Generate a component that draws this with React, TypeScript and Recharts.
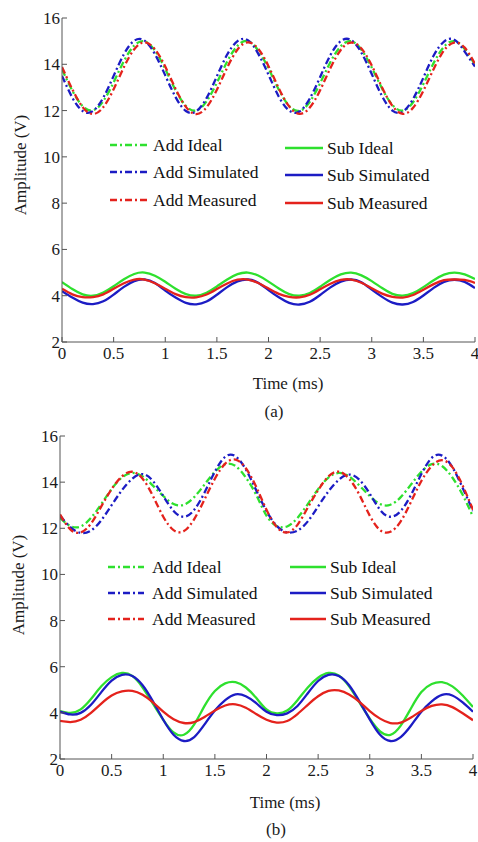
import { LineChart, Line, XAxis, YAxis, Legend } from 'recharts';

// time axis, ms
const time = [
  0, 0.1, 0.2, 0.3, 0.4, 0.5, 0.6, 0.7, 0.8, 0.9,
  1, 1.1, 1.2, 1.3, 1.4, 1.5, 1.6, 1.7, 1.8, 1.9,
  2, 2.1, 2.2, 2.3, 2.4, 2.5, 2.6, 2.7, 2.8, 2.9,
  3, 3.1, 3.2, 3.3, 3.4, 3.5, 3.6, 3.7, 3.8, 3.9, 4,
];

const xTicks = [0, 0.5, 1, 1.5, 2, 2.5, 3, 3.5, 4];
const yTicks = [2, 4, 6, 8, 10, 12, 14, 16];

// panel (a)
const addIdealA = [
  13.78, 12.86, 12.19, 12.01, 12.41, 13.22, 14.14, 14.81, 14.99, 14.59,
  13.8, 12.88, 12.2, 12.0, 12.4, 13.2, 14.12, 14.8, 15.0, 14.6,
  13.82, 12.9, 12.2, 11.99, 12.38, 13.18, 14.1, 14.78, 15.0, 14.63,
  13.86, 12.95, 12.24, 12.0, 12.36, 13.15, 14.06, 14.76, 15.0, 14.66, 13.98,
];
const addSimA = [
  13.5, 12.56, 11.98, 11.98, 12.56, 13.5, 14.44, 15.02, 15.02, 14.44,
  13.52, 12.58, 11.98, 11.97, 12.54, 13.48, 14.42, 15.0, 15.04, 14.46,
  13.55, 12.6, 12.0, 11.96, 12.52, 13.45, 14.4, 15.0, 15.05, 14.5,
  13.58, 12.62, 12.0, 11.95, 12.5, 13.42, 14.38, 14.98, 15.06, 14.55, 13.9,
];
const addMeasA = [
  13.88, 12.92, 12.15, 11.85, 12.15, 12.92, 13.88, 14.65, 14.95, 14.65,
  13.9, 12.94, 12.16, 11.85, 12.14, 12.9, 13.86, 14.64, 14.95, 14.67,
  13.92, 12.96, 12.18, 11.86, 12.13, 12.88, 13.84, 14.62, 14.94, 14.68,
  13.95, 13.0, 12.2, 11.86, 12.12, 12.86, 13.8, 14.6, 14.94, 14.72, 14.02,
];
const subIdealA = [
  4.59, 4.29, 4.06, 4.0, 4.14, 4.41, 4.71, 4.94, 5.0, 4.86,
  4.6, 4.3, 4.07, 4.0, 4.13, 4.4, 4.7, 4.93, 5.0, 4.87,
  4.61, 4.31, 4.07, 4.0, 4.12, 4.39, 4.69, 4.92, 5.0, 4.88,
  4.63, 4.33, 4.08, 4.0, 4.11, 4.37, 4.67, 4.91, 5.0, 4.92, 4.72,
];
const subSimA = [
  4.2, 3.92, 3.7, 3.64, 3.76, 4.05, 4.38, 4.63, 4.7, 4.55,
  4.22, 3.92, 3.69, 3.63, 3.75, 4.04, 4.37, 4.62, 4.7, 4.56,
  4.24, 3.93, 3.69, 3.62, 3.74, 4.03, 4.36, 4.61, 4.7, 4.58,
  4.26, 3.95, 3.7, 3.62, 3.73, 4.01, 4.34, 4.6, 4.69, 4.6, 4.33,
];
const subMeasA = [
  4.3, 4.06, 3.94, 3.94, 4.06, 4.3, 4.54, 4.7, 4.7, 4.54,
  4.3, 4.07, 3.94, 3.93, 4.05, 4.29, 4.53, 4.69, 4.7, 4.55,
  4.31, 4.08, 3.95, 3.93, 4.04, 4.28, 4.52, 4.68, 4.7, 4.56,
  4.32, 4.09, 3.95, 3.92, 4.03, 4.26, 4.5, 4.67, 4.7, 4.68, 4.55,
];

// panel (b)
const addIdealB = [
  12.45, 12.1, 12.08, 12.45, 13.05, 13.7, 14.2, 14.4, 14.25, 13.85,
  13.4, 13.05, 13.02, 13.35, 13.9, 14.45, 14.78, 14.7, 14.2, 13.45,
  12.55, 12.1, 12.08, 12.45, 13.05, 13.7, 14.2, 14.4, 14.25, 13.85,
  13.4, 13.05, 13.02, 13.35, 13.9, 14.45, 14.78, 14.7, 14.2, 13.45, 12.5,
];
const addSimB = [
  12.55, 12.05, 11.8, 11.9, 12.35, 13.0, 13.65, 14.15, 14.35, 14.05,
  13.4, 12.75, 12.5, 12.8, 13.55, 14.45, 15.1, 15.12, 14.55, 13.65,
  12.75, 12.1, 11.82, 11.9, 12.3, 12.95, 13.6, 14.1, 14.33, 14.1,
  13.5, 12.8, 12.5, 12.75, 13.45, 14.35, 15.05, 15.15, 14.65, 13.75, 12.75,
];
const addMeasB = [
  12.6, 11.95, 11.82, 12.2, 12.95, 13.7, 14.25, 14.45, 14.15, 13.4,
  12.5, 11.92, 11.88, 12.4, 13.25, 14.15, 14.8, 14.98, 14.6, 13.8,
  12.8, 12.05, 11.82, 12.15, 12.9, 13.65, 14.25, 14.45, 14.15, 13.45,
  12.55, 11.92, 11.85, 12.3, 13.15, 14.05, 14.7, 14.95, 14.65, 13.85, 12.8,
];
const subIdealB = [
  4.08, 4.0, 4.15, 4.6, 5.15, 5.55, 5.73, 5.6, 5.1, 4.4,
  3.7, 3.15, 3.05, 3.5, 4.3, 4.95, 5.28, 5.33, 5.1, 4.65,
  4.15, 3.98, 4.1, 4.55, 5.1, 5.52, 5.73, 5.62, 5.15, 4.45,
  3.75, 3.2, 3.05, 3.45, 4.2, 4.9, 5.25, 5.33, 5.15, 4.75, 4.25,
];
const subSimB = [
  4.05, 3.93, 4.0, 4.35, 4.9, 5.4, 5.65, 5.6, 5.2, 4.5,
  3.7, 3.05, 2.78, 2.95, 3.5, 4.1, 4.55, 4.8, 4.72, 4.42,
  4.05, 3.9, 3.98, 4.3, 4.85, 5.38, 5.65, 5.6, 5.2, 4.5,
  3.72, 3.05, 2.78, 2.95, 3.45, 4.05, 4.5, 4.78, 4.75, 4.45, 4.05,
];
const subMeasB = [
  3.65, 3.6, 3.7, 4.0, 4.4, 4.75, 4.93, 4.95, 4.78, 4.45,
  4.05, 3.72, 3.56, 3.6, 3.82, 4.1, 4.32, 4.37, 4.22, 3.95,
  3.7, 3.58, 3.65, 3.95, 4.35, 4.72, 4.95, 4.97, 4.8, 4.48,
  4.08, 3.75, 3.56, 3.58, 3.8, 4.08, 4.3, 4.37, 4.25, 3.98, 3.68,
];

const GREEN = '#2ee02e';
const BLUE = '#1c1cc4';
const RED = '#e4221c';
const DASHDOT = '7 3 2 3';
const FONT = "'Liberation Serif', 'Times New Roman', serif";
const AXIS = '#555';

const series = [
  { key: 'addIdeal', name: 'Add Ideal', color: GREEN, dash: DASHDOT },
  { key: 'addSim', name: 'Add Simulated', color: BLUE, dash: DASHDOT },
  { key: 'addMeas', name: 'Add Measured', color: RED, dash: DASHDOT },
  { key: 'subIdeal', name: 'Sub Ideal', color: GREEN, dash: undefined },
  { key: 'subSim', name: 'Sub Simulated', color: BLUE, dash: undefined },
  { key: 'subMeas', name: 'Sub Measured', color: RED, dash: undefined },
];

function buildRows(cols: number[][]) {
  return time.map((t, i) => ({
    t,
    addIdeal: cols[0][i],
    addSim: cols[1][i],
    addMeas: cols[2][i],
    subIdeal: cols[3][i],
    subSim: cols[4][i],
    subMeas: cols[5][i],
  }));
}

const dataA = buildRows([addIdealA, addSimA, addMeasA, subIdealA, subSimA, subMeasA]);
const dataB = buildRows([addIdealB, addSimB, addMeasB, subIdealB, subSimB, subMeasB]);

interface LegendCfg {
  col1Line: number;
  col1Text: number;
  col2Line: number;
  col2Text: number;
  lineW: number;
  rows: number[];
  col2Dy: number;
}

function LegendBox({ cfg }: { cfg: LegendCfg }) {
  return (
    <div style={{ position: 'relative', width: 360, height: 90, fontFamily: FONT, fontSize: 17.5, color: '#111' }}>
      {series.map((s, i) => {
        const col = i < 3 ? 0 : 1;
        const top = cfg.rows[i % 3] + (col ? cfg.col2Dy : 0);
        const lx = col ? cfg.col2Line : cfg.col1Line;
        const tx = col ? cfg.col2Text : cfg.col1Text;
        return (
          <div key={s.key}>
            <svg style={{ position: 'absolute', left: lx, top: top - 5 }} width={cfg.lineW} height={10}>
              <line x1={0} y1={5} x2={cfg.lineW} y2={5} stroke={s.color} strokeWidth={2.5} strokeDasharray={s.dash} />
            </svg>
            <span style={{ position: 'absolute', left: tx, top: top - 11, lineHeight: '22px', whiteSpace: 'nowrap' }}>
              {s.name}
            </span>
          </div>
        );
      })}
    </div>
  );
}

interface PanelProps {
  data: ReturnType<typeof buildRows>;
  top: number;
  height: number;
  margin: { top: number; right: number; bottom: number; left: number };
  yWidth: number;
  xHeight: number;
  xLabelX: number;
  xLabelY: number;
  yLabelX: number;
  yLabelY: number;
  caption: string;
  captionX: number;
  captionY: number;
  legendTop: number;
  legendLeft: number;
  legendCfg: LegendCfg;
}

function Panel(p: PanelProps) {
  const tickStyle = { fontFamily: FONT, fontSize: 17, fill: '#1a1a1a' };
  return (
    <div style={{ position: 'absolute', left: 0, top: p.top, width: 478, height: p.height }}>
      <LineChart width={478} height={p.height} data={p.data} margin={p.margin}>
        <XAxis
          dataKey="t"
          type="number"
          domain={[0, 4]}
          ticks={xTicks}
          interval={0}
          allowDataOverflow
          height={p.xHeight}
          tickSize={-5}
          tickMargin={10}
          tick={tickStyle}
          stroke={AXIS}
          label={() => (
            <text x={p.xLabelX} y={p.xLabelY} textAnchor="middle" dominantBaseline="central" style={tickStyle}>
              Time (ms)
            </text>
          )}
        />
        <XAxis
          xAxisId="top"
          orientation="top"
          dataKey="t"
          type="number"
          domain={[0, 4]}
          ticks={xTicks}
          interval={0}
          allowDataOverflow
          height={0}
          tickSize={-5}
          tickFormatter={() => ''}
          stroke={AXIS}
        />
        <YAxis
          type="number"
          domain={[2, 16]}
          ticks={yTicks}
          interval={0}
          allowDataOverflow
          width={p.yWidth}
          tickSize={-5}
          tickMargin={7}
          tick={tickStyle}
          stroke={AXIS}
          label={() => (
            <text
              x={p.yLabelX}
              y={p.yLabelY}
              transform={`rotate(-90 ${p.yLabelX} ${p.yLabelY})`}
              textAnchor="middle"
              dominantBaseline="central"
              style={tickStyle}
            >
              Amplitude (V)
            </text>
          )}
        />
        <YAxis
          yAxisId="right"
          orientation="right"
          type="number"
          domain={[2, 16]}
          ticks={yTicks}
          interval={0}
          allowDataOverflow
          width={0}
          tickSize={-5}
          tickFormatter={() => ''}
          stroke={AXIS}
        />
        {series.map((s) => (
          <Line
            key={s.key}
            dataKey={s.key}
            name={s.name}
            type="natural"
            stroke={s.color}
            strokeWidth={2.3}
            strokeDasharray={s.dash}
            dot={false}
            activeDot={false}
            isAnimationActive={false}
          />
        ))}
        <Legend
          layout="horizontal"
          verticalAlign="middle"
          align="center"
          wrapperStyle={{ top: p.legendTop, left: p.legendLeft, width: 360, height: 90 }}
          content={() => <LegendBox cfg={p.legendCfg} />}
        />
      </LineChart>
      <div
        style={{
          position: 'absolute',
          left: p.captionX - 30,
          top: p.captionY - 11,
          width: 60,
          textAlign: 'center',
          lineHeight: '22px',
          fontFamily: FONT,
          fontSize: 17,
          color: '#1a1a1a',
        }}
      >
        {p.caption}
      </div>
    </div>
  );
}

export default function App() {
  return (
    <div style={{ position: 'absolute', left: 0, top: 0, width: 478, height: 842, background: '#fff', overflow: 'hidden' }}>
      <Panel
        data={dataA}
        top={0}
        height={420}
        margin={{ top: 18, right: 3, bottom: 0, left: 0 }}
        yWidth={62}
        xHeight={78}
        xLabelX={288}
        xLabelY={383}
        yLabelX={20}
        yLabelY={165}
        caption="(a)"
        captionX={274}
        captionY={412}
        legendTop={133}
        legendLeft={108}
        legendCfg={{ col1Line: 2, col1Text: 45, col2Line: 177, col2Text: 219, lineW: 38, rows: [12, 39, 67], col2Dy: 3 }}
      />
      <Panel
        data={dataB}
        top={420}
        height={422}
        margin={{ top: 16, right: 5, bottom: 0, left: 0 }}
        yWidth={60}
        xHeight={83}
        xLabelX={285}
        xLabelY={382}
        yLabelX={18}
        yLabelY={165}
        caption="(b)"
        captionX={276}
        captionY={410}
        legendTop={135}
        legendLeft={108}
        legendCfg={{ col1Line: 0, col1Text: 44, col2Line: 182, col2Text: 222, lineW: 36, rows: [12, 38, 64], col2Dy: 0 }}
      />
    </div>
  );
}
